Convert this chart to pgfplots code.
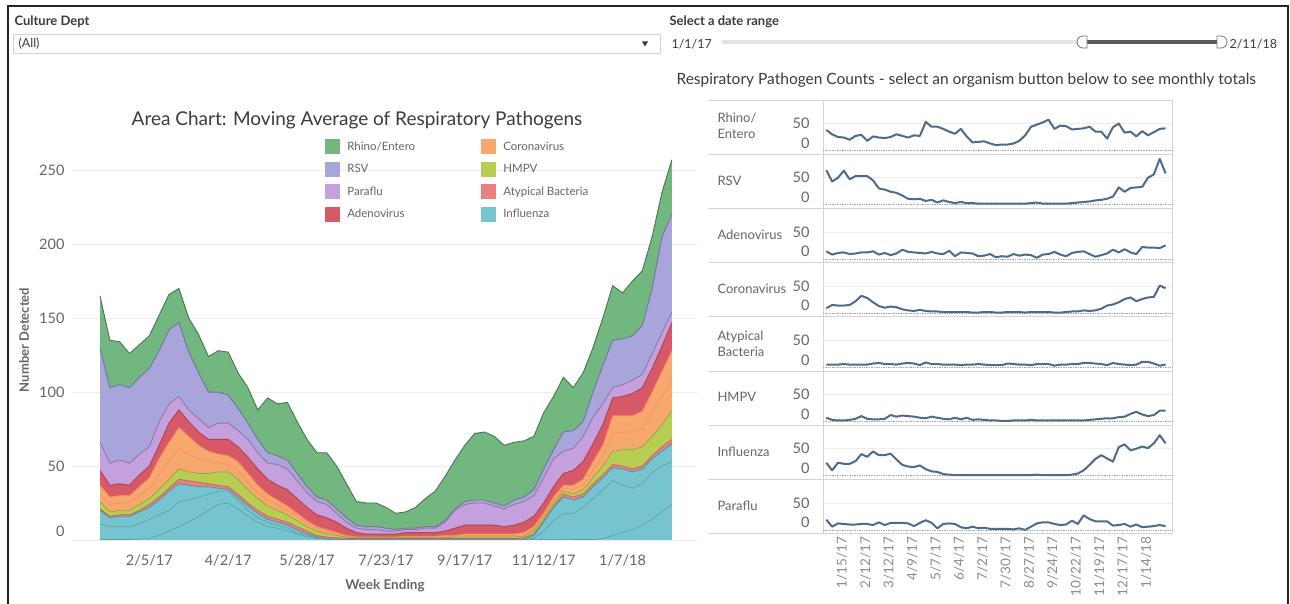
\documentclass[border=0pt]{standalone}
\usepackage{fontspec}
\setmainfont{Lato}
\usepackage{pgfplots}
\pgfplotsset{compat=1.18}
\usepackage{pgfplotstable}
\definecolor{rhino}{RGB}{114,182,128}
\definecolor{rsv}{RGB}{168,165,218}
\definecolor{para}{RGB}{197,160,222}
\definecolor{adeno}{RGB}{215,88,102}
\definecolor{corona}{RGB}{246,168,110}
\definecolor{hmpv}{RGB}{184,206,82}
\definecolor{atyp}{RGB}{232,128,128}
\definecolor{flu}{RGB}{118,196,208}
\definecolor{lineblue}{RGB}{78,107,140}
\definecolor{tgray}{RGB}{102,102,102}
\definecolor{dgray}{RGB}{60,60,60}
\definecolor{sep}{RGB}{212,212,212}
\pgfplotstableread{
w L1 L2 F A H Cm C D P R T
0 0.3 11 20 21 26 31 37 47 66 130 165
1 0.3 9 15 16 19 24 29 37 52 103 135
2 0.3 9 16 17 20 25 30 38 54 105 134
3 0.3 9 16 17 20 25 30 37 52 103 126
4 0.5 11 19 20 24 30 36 44 58 110 132
5 1 14 22 24 28 35 42 50 63 116 138
6 3 17 27 29 34 44 55 64 80 128 152
7 6 20 33 35 41 54 66 79 92 142 166
8 9 26 38 41 48 62 76 88 97 147 170
9 12 27 37 40 46 58 70 80 88 127 150
10 16 29 36 39 45 55 64 73 82 113 139
11 20 31 36 38 45 53 60 68 76 100 124
12 24 33 35 37 46 52 58 68 79 100 128
13 25 33 34 36 46 51 57 68 79 98 127
14 21 27 29 31 41 47 53 63 74 89 113
15 16 20 23 25 34 39 45 56 68 79 103
16 12 15 18 20 28 32 37 48 59 68 88
17 9 12 14 16 23 27 31 41 52 59 96
18 8 10 12 14 20 24 27 37 51 57 92
19 6 8 10 12 17 20 23 34 48 54 93
20 4 5 7 9 13 16 18 28 40 45 80
21 2 3 4 6 9 11 13 22 32 36 68
22 1 1.5 2 3 6 7.5 9 17 26 29 59
23 0.5 0.7 1 2 4 5.5 7 15 24 27 59
24 0.2 0.3 0.5 1.5 3 4 5 12 18 21 50
25 0.2 0.3 0.5 1 2 2.5 3 8 12 15 38
26 0.2 0.3 0.5 1 1.5 1.8 2 5 8 10 26
27 0.2 0.3 0.5 1 1.5 1.8 2 4 7 9 25
28 0.2 0.3 0.5 1 1.5 1.8 2 4 7 9 25
29 0.2 0.3 0.5 1 1.5 1.8 2 4 6 8 22
30 0.2 0.3 0.5 1 1.5 1.8 2 4 6 7 18
31 0.2 0.3 0.5 1 1.5 2 2.5 5 7 8 19
32 0.2 0.3 0.5 1 1.5 2 2.5 5 7 8 22
33 0.2 0.3 0.5 1 1.5 2 2.5 5 8 9 28
34 0.2 0.3 0.5 1 1.5 2 2.5 5 8 9 33
35 0.2 0.3 0.5 1 1.5 2.2 3 6 12 13 43
36 0.2 0.3 0.5 1 2 2.5 3 8 20 21 54
37 0.2 0.3 0.5 1 2 3 4 10 24 26 64
38 0.2 0.3 0.5 1 2 3 4 10 25 27 72
39 0.2 0.3 0.5 1 2 3 4 10 25 27 73
40 0.2 0.3 0.5 1 2 3 4 10 23 25 70
41 0.2 0.3 0.5 1 2 3 4 9 21 23 64
42 0.2 0.3 0.5 1 2 3 4 10 24 27 66
43 0.2 0.3 0.5 1.5 2.5 3.5 5 12 26 29 67
44 0.2 1 3 4 6 7.5 9 16 30 34 70
45 0.2 6 12 13 15 16.5 18 25 42 48 86
46 0.2 13 22 23 25 27 29 36 55 61 97
47 0.2 18 29 31 33 35 37 45 60 73 110
48 0.3 18 27 29 31 34 37 47 62 74 103
49 0.3 22 29 31 34 37 41 53 70 80 113
50 0.3 28 36 38 42 47 53 65 83 100 130
51 1 34 42 44 50 57 64 78 92 118 150
52 3 40 49 51 60 72 84 96 103 135 172
53 5 37 48 50 61 73 84 97 105 136 167
54 7 35 46 48 61 73 84 99 108 138 175
55 10 38 48 50 63 75 87 103 112 145 182
56 14 46 55 57 70 86 100 116 126 170 205
57 19 50 60 63 78 97 114 131 140 205 235
58 24 53 65 68 87 108 128 147 154 220 257
}\areadata
\pgfplotstableread{
w rhino rsv adeno corona atyp hmpv flu para
0 38 64 14 9 5 7 24 19
1 30 43 8 15 5 3 10 6
2 25 50 11 14 5 2 24 12
3 24 63 12 14 6 2 22 11
4 20 47 9 15 5 3 22 10
5 27 53 10 22 5 5 27 10
6 29 53 12 32 5 10 40 11
7 18 53 12 28 5 5 35 11
8 26 45 14 20 7 4 45 9
9 24 30 8 13 8 4 38 14
10 23 28 11 10 6 5 38 9
11 25 24 7 12 6 12 41 13
12 30 22 10 11 5 9 30 13
13 27 17 17 7 7 11 20 13
14 24 11 13 5 8 10 17 12
15 28 10 12 4 7 9 16 7
16 27 11 11 6 4 7 19 13
17 53 7 10 4 9 6 12 18
18 44 9 13 3 6 9 8 13
19 44 4 10 3 6 7 7 3
20 40 8 9 2 5 5 3 11
21 35 5 15 2 5 4 2 12
22 31 3 5 2 5 7 1 11
23 40 5 12 2 4 4 1 5
24 26 3 11 2 5 7 1 3
25 15 3 10 1 5 3 1 6
26 16 2 5 1 6 4 1 3
27 17 2 6 2 5 3 1 4
28 13 2 9 2 4 2 1 2
29 10 2 3 1 4 2 1 2
30 11 2 5 1 4 1 1 2
31 11 2 4 2 7 1 1 2
32 13 2 9 2 6 2 1 1
33 18 2 6 2 5 2 1 3
34 28 2 8 1 5 2 1 0
35 44 3 7 2 4 3 1 6
36 48 4 2 2 6 2 2 12
37 52 2 8 2 6 2 1 14
38 57 2 9 2 6 2 1 14
39 40 2 13 1 3 2 1 11
40 46 2 8 1 5 2 1 9
41 45 2 5 2 5 2 1 10
42 39 3 11 3 6 2 2 17
43 40 4 13 3 6 2 4 11
44 41 5 14 5 8 2 10 27
45 44 6 9 4 8 3 20 20
46 35 8 4 5 7 4 31 16
47 35 9 7 8 6 5 38 16
48 22 11 10 14 4 6 32 16
49 43 15 17 16 8 6 26 8
50 50 32 12 20 6 8 53 9
51 33 24 18 26 5 9 58 11
52 35 31 12 29 4 14 47 6
53 26 32 9 22 5 18 50 10
54 36 33 22 26 10 13 54 5
55 28 50 21 29 10 10 51 6
56 34 56 21 30 7 12 60 7
57 40 85 20 51 3 20 75 9
58 41 58 25 46 5 20 60 7
}\linedata
\pgfplotsset{
  every axis/.append style={/pgf/number format/assume math mode=true},
  sm/.style={anchor=north west, scale only axis, width=349pt, height=54.2pt,
    xmin=-0.56, xmax=59.1, ymin=-6.85, ymax=93.5,
    axis line style={draw=none}, tick style={draw=none},
    ytick={50}, extra y ticks={0},
    extra y tick style={grid=none, yticklabel style={yshift=7.5pt}},
    ymajorgrids, grid style={color=black!7, line width=0.6pt},
    yticklabel style={font=\fontsize{14.5}{14.5}\selectfont, text=tgray, xshift=-10pt},
    xtick=\empty, clip=false},
  smline/.style={lineblue, line width=2pt, line join=round},
  zeroline/.style={black!35, densely dotted, line width=0.7pt},
}
\begin{document}
\begin{tikzpicture}
\begin{scope}[x=1pt,y=-1pt]
\useasboundingbox (0,0) rectangle (1290,604);
\fill[white] (0,0) rectangle (1290,604);
% frame
\draw[line width=1.5pt, black!85] (8,605) -- (8,6) -- (1288,6) -- (1288,605);
% filters
\node[anchor=west, font=\bfseries\fontsize{13}{13}\selectfont, text=dgray] at (11,22) {Culture Dept};
\draw[sep, line width=0.8pt] (13,34) rectangle (660,53);
\node[anchor=west, font=\fontsize{12.5}{12.5}\selectfont, text=dgray] at (15,44) {(All)};
\fill[dgray] (642,41.5) -- (648,41.5) -- (645,46.5) -- cycle;
\node[anchor=west, font=\bfseries\fontsize{13}{13}\selectfont, text=dgray] at (666,22) {Select a date range};
\node[anchor=west, font=\fontsize{12.5}{12.5}\selectfont, text=dgray] at (668,44) {1/1/17};
\draw[black!10, line width=4pt] (722,42) -- (1082,42);
\draw[black!65, line width=3.5pt] (1086,42) -- (1218,42);
\draw[black!55, fill=white, line width=0.8pt] (1087,36) -- (1083,36) arc (270:90:6) -- (1087,48) -- cycle;
\draw[black!55, fill=white, line width=0.8pt] (1217,36) -- (1221,36) arc (-90:90:6) -- (1217,48) -- cycle;
\node[anchor=west, font=\fontsize{12.5}{12.5}\selectfont, text=dgray] at (1226,44) {2/11/18};
\node[anchor=west, font=\fontsize{15.5}{15.5}\selectfont, text=dgray] at (673,80) {Respiratory Pathogen Counts - select an organism button below to see monthly totals};
% left chart titles
\node[font=\fontsize{19}{19}\selectfont, text=dgray] at (357,120) {Area Chart: Moving Average of Respiratory Pathogens};
\node[rotate=90, font=\bfseries\fontsize{13}{13}\selectfont, text=tgray] at (24,340) {Number Detected};
\node[font=\bfseries\fontsize{13.5}{13.5}\selectfont, text=tgray] at (385,586) {Week Ending};
% small multiples frame
\foreach \yy in {100,154.2,208.4,262.6,316.8,371,425.2,479.4,533.6}
  \draw[sep, line width=0.9pt] (708,\yy) -- (1172,\yy);
\draw[sep, line width=0.9pt] (823,100) -- (823,533.6);
\draw[sep, line width=0.9pt] (1172,100) -- (1172,533.6);
\begin{scope}[every node/.style={anchor=west, font=\fontsize{13}{16}\selectfont, text=tgray, align=left}]
\node at (714,126) {Rhino/\\Entero};
\node at (714,181) {RSV};
\node at (714,235) {Adenovirus};
\node at (714,289) {Coronavirus};
\node at (714,344) {Atypical\\Bacteria};
\node at (714,397) {HMPV};
\node at (714,452) {Influenza};
\node at (714,506) {Paraflu};
\end{scope}
\end{scope}
\begin{axis}[at={(72pt,-545pt)}, anchor=south west, scale only axis, width=625pt, height=397pt,
  xmin=-2.84, xmax=60.55, ymin=-3.4, ymax=265,
  axis line style={draw=none}, tick style={draw=none},
  ytick={50,100,...,250}, extra y ticks={0},
  extra y tick style={yticklabel style={yshift=9pt}},
  ymajorgrids, grid style={color=black!7, line width=0.6pt},
  xtick={5,13,21,29,37,45,53},
  xticklabels={2/5/17,4/2/17,5/28/17,7/23/17,9/17/17,11/12/17,1/7/18},
  ticklabel style={font=\fontsize{14.5}{14.5}\selectfont, text=tgray},
  yticklabel style={xshift=-4pt},
  xticklabel style={yshift=-6pt},
  legend style={at={(0.405,1.022)}, anchor=north west, draw=none, fill=none,
    font=\fontsize{11.5}{11.5}\selectfont, text=tgray, row sep=7.5pt, column sep=7pt,
    inner sep=0pt, nodes={inner sep=0pt, anchor=west}},
  legend columns=4, transpose legend,
  legend image code/.code={\fill[#1, draw=none] (0pt,-7.5pt) rectangle (15pt,7.5pt);},
]
\addplot[fill=rhino, draw=none] table[x=w,y=T]{\areadata} \closedcycle;
\addlegendentry{\makebox[127pt][l]{Rhino/Entero}}
\addplot[fill=rsv, draw=none] table[x=w,y=R]{\areadata} \closedcycle;
\addlegendentry{\makebox[127pt][l]{RSV}}
\addplot[fill=para, draw=none] table[x=w,y=P]{\areadata} \closedcycle;
\addlegendentry{\makebox[127pt][l]{Paraflu}}
\addplot[fill=adeno, draw=none] table[x=w,y=D]{\areadata} \closedcycle;
\addlegendentry{\makebox[127pt][l]{Adenovirus}}
\addplot[fill=corona, draw=none] table[x=w,y=C]{\areadata} \closedcycle;
\addlegendentry{Coronavirus}
\addplot[fill=corona, draw=none, forget plot] table[x=w,y=Cm]{\areadata} \closedcycle;
\addplot[fill=hmpv, draw=none] table[x=w,y=H]{\areadata} \closedcycle;
\addlegendentry{HMPV}
\addplot[fill=atyp, draw=none] table[x=w,y=A]{\areadata} \closedcycle;
\addlegendentry{Atypical Bacteria}
\addplot[fill=flu, draw=none] table[x=w,y=F]{\areadata} \closedcycle;
\addlegendentry{Influenza}
\addplot[fill=flu, draw=none, forget plot] table[x=w,y=L2]{\areadata} \closedcycle;
\addplot[fill=flu, draw=none, forget plot] table[x=w,y=L1]{\areadata} \closedcycle;
\addplot[rhino!65!black, line width=0.9pt, forget plot] table[x=w,y=T]{\areadata};
\addplot[rsv!70!black, line width=0.9pt, forget plot] table[x=w,y=R]{\areadata};
\addplot[para!75!black, line width=0.9pt, forget plot] table[x=w,y=P]{\areadata};
\addplot[adeno!80!black, line width=0.9pt, forget plot] table[x=w,y=D]{\areadata};
\addplot[corona!80!red, line width=0.8pt, forget plot] table[x=w,y=C]{\areadata};
\addplot[corona!85!red, line width=0.6pt, forget plot] table[x=w,y=Cm]{\areadata};
\addplot[hmpv!80!black, line width=0.7pt, forget plot] table[x=w,y=H]{\areadata};
\addplot[atyp!80!black, line width=0.7pt, forget plot] table[x=w,y=A]{\areadata};
\addplot[flu!75!black, line width=0.8pt, forget plot] table[x=w,y=F]{\areadata};
\addplot[flu!80!black, line width=0.6pt, forget plot] table[x=w,y=L2]{\areadata};
\addplot[flu!80!black, line width=0.6pt, forget plot] table[x=w,y=L1]{\areadata};
\end{axis}
\begin{axis}[sm, at={(823pt,-100pt)}]
\addplot[zeroline] coordinates {(-0.56,0) (59.1,0)};
\addplot[smline] table[x=w,y=rhino]{\linedata};
\end{axis}
\begin{axis}[sm, at={(823pt,-154.2pt)}]
\addplot[zeroline] coordinates {(-0.56,0) (59.1,0)};
\addplot[smline] table[x=w,y=rsv]{\linedata};
\end{axis}
\begin{axis}[sm, at={(823pt,-208.4pt)}]
\addplot[zeroline] coordinates {(-0.56,0) (59.1,0)};
\addplot[smline] table[x=w,y=adeno]{\linedata};
\end{axis}
\begin{axis}[sm, at={(823pt,-262.6pt)}]
\addplot[zeroline] coordinates {(-0.56,0) (59.1,0)};
\addplot[smline] table[x=w,y=corona]{\linedata};
\end{axis}
\begin{axis}[sm, at={(823pt,-316.8pt)}]
\addplot[zeroline] coordinates {(-0.56,0) (59.1,0)};
\addplot[smline] table[x=w,y=atyp]{\linedata};
\end{axis}
\begin{axis}[sm, at={(823pt,-371pt)}]
\addplot[zeroline] coordinates {(-0.56,0) (59.1,0)};
\addplot[smline] table[x=w,y=hmpv]{\linedata};
\end{axis}
\begin{axis}[sm, at={(823pt,-425.2pt)}]
\addplot[zeroline] coordinates {(-0.56,0) (59.1,0)};
\addplot[smline] table[x=w,y=flu]{\linedata};
\end{axis}
\begin{axis}[sm, at={(823pt,-479.4pt)},
  xtick={2,6,10,14,18,22,26,30,34,38,42,46,50,54},
  xticklabels={1/15/17,2/12/17,3/12/17,4/9/17,5/7/17,6/4/17,7/2/17,7/30/17,8/27/17,9/24/17,10/22/17,11/19/17,12/17/17,1/14/18},
  xticklabel style={rotate=90, anchor=east, font=\fontsize{13.5}{13.5}\selectfont, text=black!45, yshift=-4pt}]
\addplot[zeroline] coordinates {(-0.56,0) (59.1,0)};
\addplot[smline] table[x=w,y=para]{\linedata};
\end{axis}
\end{tikzpicture}
\end{document}
